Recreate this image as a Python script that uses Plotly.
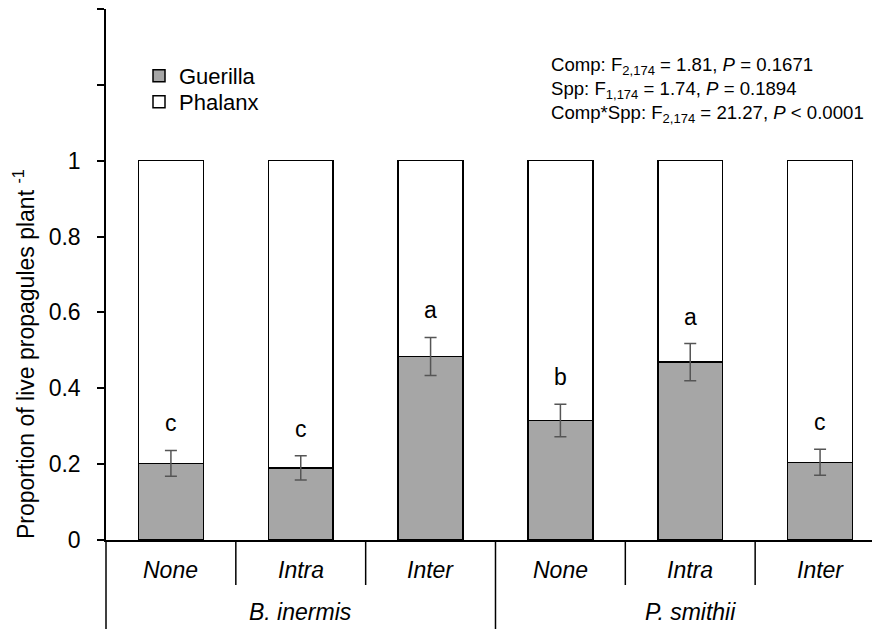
import plotly.graph_objects as go

# ---- data ----
categories = ["None", "Intra", "Inter", "None", "Intra", "Inter"]
groups = ["B. inermis", "P. smithii"]
guerilla = [0.202, 0.190, 0.484, 0.315, 0.469, 0.205]
guerilla_se = [0.034, 0.032, 0.050, 0.043, 0.049, 0.034]
letters = ["c", "c", "a", "b", "a", "c"]
y_tickvals = [0, 0.2, 0.4, 0.6, 0.8, 1.0, 1.2, 1.4]
y_ticktext = ["0", "0.2", "0.4", "0.6", "0.8", "1", "", ""]
stats_lines = [
    "Comp: F<sub>2,174</sub> = 1.81, <i>P</i> = 0.1671",
    "Spp: F<sub>1,174</sub> = 1.74, <i>P</i> = 0.1894",
    "Comp*Spp: F<sub>2,174</sub> = 21.27, <i>P</i> &lt; 0.0001",
]

phalanx = [1 - g for g in guerilla]
xpos = list(range(len(categories)))

FONT = "Arial, 'Liberation Sans', sans-serif"
W, H = 872, 629
ML, MR, MT, MB = 106, 0, 9, 89
plot_h = H - MT - MB
plot_w = W - ML - MR


def py(px_from_top):
    """paper y for a pixel row measured from the top of the figure"""
    return (H - MB - px_from_top) / plot_h


def px(px_from_left):
    return (px_from_left - ML) / plot_w


fig = go.Figure()
fig.add_trace(go.Bar(
    x=xpos, y=guerilla, name="Guerilla", width=0.5, legend="legend",
    marker=dict(color="#a6a6a6", line=dict(color="black", width=1.5)),
))
fig.add_trace(go.Bar(
    x=xpos, y=phalanx, name="Phalanx", width=0.5, legend="legend2",
    marker=dict(color="white", line=dict(color="black", width=1.5)),
))
# error bars drawn above the stacked bars
fig.add_trace(go.Scatter(
    x=xpos, y=guerilla, mode="markers", showlegend=False, hoverinfo="skip",
    marker=dict(size=1, opacity=0),
    error_y=dict(type="data", array=guerilla_se, visible=True,
                 color="#555555", thickness=1.5, width=6),
))

# significance letters
for i, (g, se, L) in enumerate(zip(guerilla, guerilla_se, letters)):
    fig.add_annotation(x=i, y=g + se, text=L, showarrow=False, yshift=27,
                       yanchor="middle", font=dict(family=FONT, size=23, color="black"))

# category labels
for i, c in enumerate(categories):
    fig.add_annotation(x=i, xref="x", y=py(570), yref="paper", text=f"<i>{c}</i>",
                       showarrow=False, yanchor="middle",
                       font=dict(family=FONT, size=23, color="black"))
# group labels
n_per = len(categories) // len(groups)
for gi, gname in enumerate(groups):
    center = gi * n_per + (n_per - 1) / 2
    fig.add_annotation(x=center, xref="x", y=py(612), yref="paper", text=f"<i>{gname}</i>",
                       showarrow=False, yanchor="middle",
                       font=dict(family=FONT, size=23, color="black"))

# separators on category axis
for i in range(len(categories) - 1):
    b = i + 0.5
    is_group = (i + 1) % n_per == 0
    fig.add_shape(type="line", xref="x", yref="paper", x0=b, x1=b, y0=0,
                  y1=py(640) if is_group else py(585),
                  line=dict(color="black", width=1.5))
# extend y axis line downward
fig.add_shape(type="line", xref="paper", yref="paper", x0=0, x1=0, y0=0, y1=py(640),
              line=dict(color="black", width=1.5))

# stats text
fig.add_annotation(xref="paper", yref="paper", x=px(549), y=py(90),
                   xanchor="left", yanchor="middle", align="left",
                   text="<br>".join(stats_lines), showarrow=False,
                   font=dict(family=FONT, size=18.6, color="black"))

# y-axis title
fig.add_annotation(xref="paper", yref="paper", x=px(24), y=py(354), textangle=-90,
                   xanchor="center", yanchor="middle",
                   text="Proportion of live propagules plant <sup>-1</sup>", showarrow=False,
                   font=dict(family=FONT, size=23, color="black"))

leg_common = dict(xanchor="left", yanchor="top", bgcolor="rgba(0,0,0,0)", itemwidth=30,
                  font=dict(family=FONT, size=22, color="black"))
fig.update_layout(
    width=W, height=H,
    margin=dict(l=ML, r=MR, t=MT, b=MB),
    barmode="stack",
    plot_bgcolor="white", paper_bgcolor="white",
    font=dict(family=FONT, size=23, color="black"),
    showlegend=True,
    legend=dict(x=px(139), y=py(55), **leg_common),
    legend2=dict(x=px(139), y=py(81), **leg_common),
    xaxis=dict(range=[-0.5, 5.4], showline=True, linecolor="black", linewidth=1.5,
               showticklabels=False, ticks="", showgrid=False, zeroline=False),
    yaxis=dict(range=[0, 1.4], tickvals=y_tickvals, ticktext=y_ticktext,
               showline=True, linecolor="black", linewidth=1.5,
               ticks="outside", ticklen=7, tickwidth=1.5, tickcolor="black",
               ticklabelstandoff=12, showgrid=False, zeroline=False,
               tickfont=dict(family=FONT, size=23, color="black")),
)

fig.write_html("out.html")
